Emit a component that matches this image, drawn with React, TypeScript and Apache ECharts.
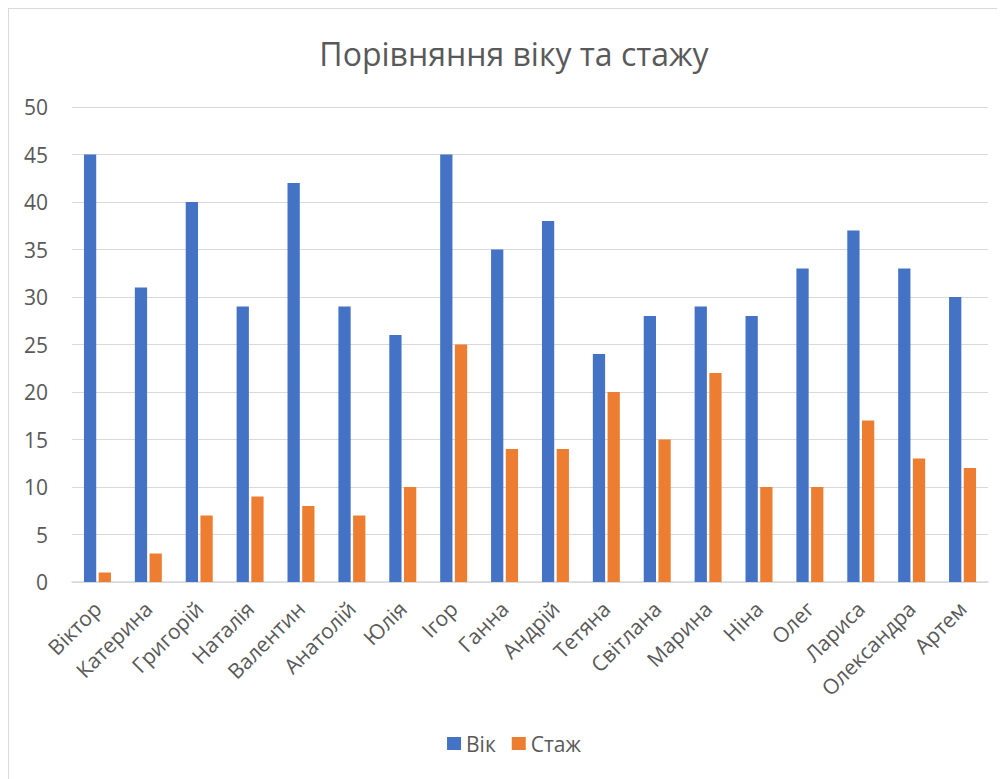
import React, { useEffect, useRef } from "react";
import * as echarts from "echarts";

const names = [
  "Віктор", "Катерина", "Григорій", "Наталія", "Валентин", "Анатолій",
  "Юлія", "Ігор", "Ганна", "Андрій", "Тетяна", "Світлана",
  "Марина", "Ніна", "Олег", "Лариса", "Олександра", "Артем",
];
const age = [45, 31, 40, 29, 42, 29, 26, 45, 35, 38, 24, 28, 29, 28, 33, 37, 33, 30];
const experience = [1, 3, 7, 9, 8, 7, 10, 25, 14, 14, 20, 15, 22, 10, 10, 17, 13, 12];

const FONT = "'Open Sans', 'Noto Sans', sans-serif";
const TEXT = "#595959";
const GRID = "#d9d9d9";

export default function App() {
  const ref = useRef<HTMLDivElement>(null);

  useEffect(() => {
    if (!ref.current) return;
    const chart = echarts.init(ref.current, undefined, { renderer: "svg" });
    chart.setOption({
      animation: false,
      backgroundColor: "#ffffff",
      textStyle: { fontFamily: FONT },
      title: {
        text: "Порівняння віку та стажу",
        left: "center",
        top: 23,
        textStyle: { fontFamily: FONT, fontSize: 32, fontWeight: "normal", color: TEXT },
      },
      legend: {
        bottom: 40,
        left: "center",
        icon: "rect",
        itemWidth: 14,
        itemHeight: 13,
        itemGap: 16,
        textStyle: { fontFamily: FONT, fontSize: 21, color: TEXT },
        data: ["Вік", "Стаж"],
      },
      grid: { left: 63, top: 98, width: 916, height: 475 },
      xAxis: {
        type: "category",
        data: names,
        axisLine: { lineStyle: { color: GRID, width: 1.5 } },
        axisTick: { show: false },
        axisLabel: {
          rotate: 45,
          interval: 0,
          margin: 23,
          fontFamily: FONT,
          fontSize: 21,
          color: TEXT,
        },
      },
      yAxis: {
        type: "value",
        min: 0,
        max: 50,
        interval: 5,
        axisLine: { show: false },
        axisTick: { show: false },
        splitLine: { lineStyle: { color: GRID, width: 1 } },
        axisLabel: { margin: 24, fontFamily: FONT, fontSize: 21, color: TEXT },
      },
      series: [
        {
          name: "Вік",
          type: "bar",
          data: age,
          itemStyle: { color: "#4472c4" },
          barGap: "20%",
          barCategoryGap: "47%",
        },
        {
          name: "Стаж",
          type: "bar",
          data: experience,
          itemStyle: { color: "#ed7d31" },
        },
      ],
    });
    return () => chart.dispose();
  }, []);

  return (
    <div style={{ border: "1px solid #d9d9d9", width: 1010, height: 790, boxSizing: "content-box" }}>
      <div ref={ref} style={{ width: 1010, height: 790 }} />
    </div>
  );
}
